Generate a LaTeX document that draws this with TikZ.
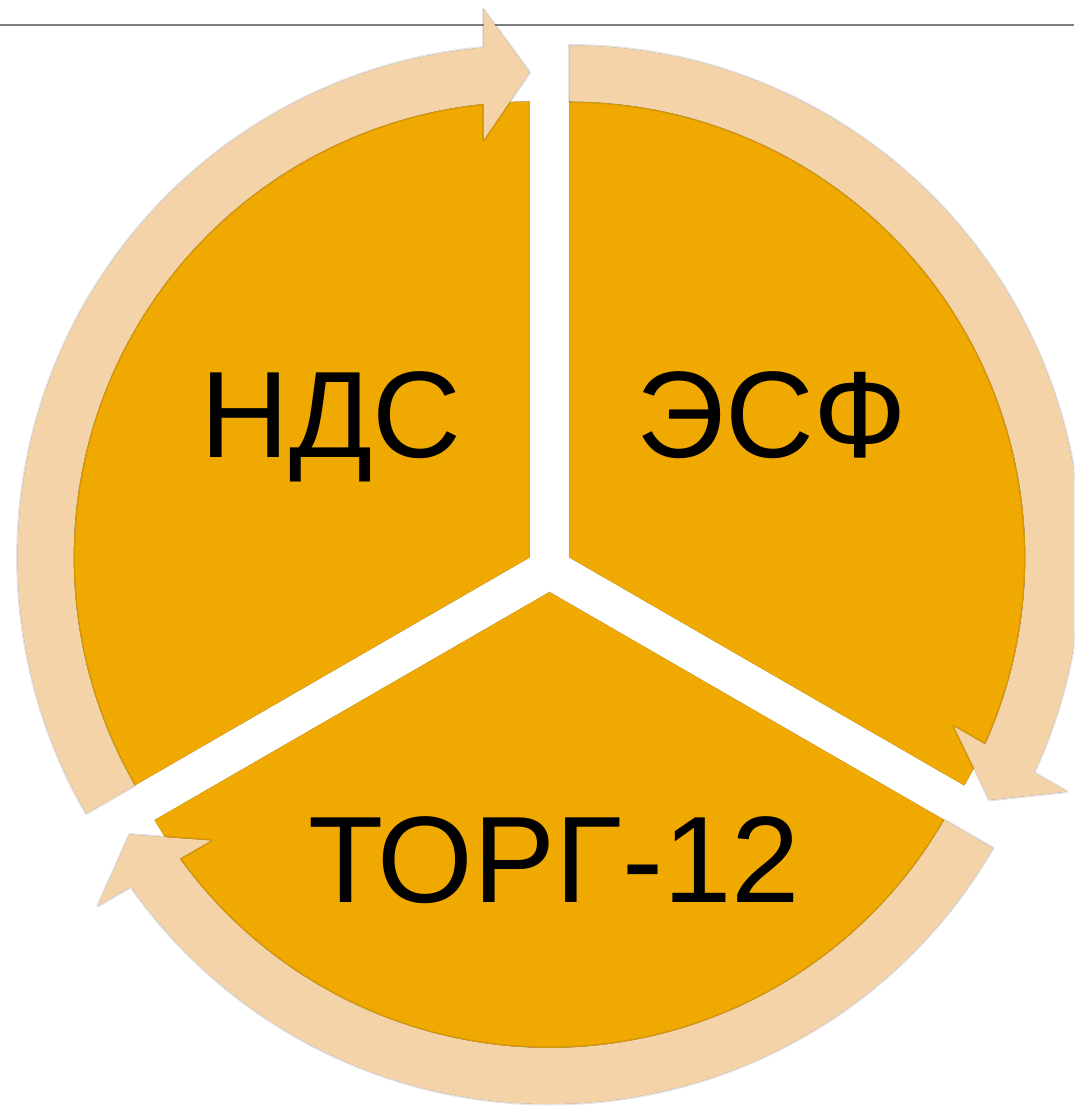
\documentclass[tikz,border=0pt]{standalone}
\usepackage{fontspec}
\setmainfont{Liberation Sans}
\definecolor{segcol}{HTML}{F0A900}
\definecolor{ringcol}{HTML}{F5D3A9}
\definecolor{rulecol}{HTML}{808080}
% #1 options, #2 centre, #3 start angle relative to tip, #4 tip angle
\newcommand\cycarrow[4]{%
  \path[#1,shift={(#2)},rotate=#4] (#3:512pt) arc[start angle=#3,end angle=5.155,radius=512pt]
    -- (548,46) -- (485,0) -- (417.5,46) -- (453.67,46)
    arc[start angle=5.79,end angle=#3,radius=456pt] -- cycle;}
% #1 options, #2 centre, #3 from, #4 to
\newcommand\cycsector[4]{%
  \fill[#1,shift={(#2)}] (0,0) -- (#3:456pt) arc[start angle=#3,end angle=#4,radius=456pt] -- cycle;}
\tikzset{
  lbl/.style={font=\fontsize{123pt}{148pt}\selectfont, inner sep=0pt, text=black},
}
\begin{document}
\begin{tikzpicture}[x=1pt,y=1pt]
\useasboundingbox (0,0) rectangle (1074,1108);
\clip (0,0) rectangle (1074,1108);
\coordinate (cL) at (529.6,550.5);
\coordinate (cR) at (569.4,550.5);
\coordinate (cB) at (549.5,516);
\coordinate (ruleL) at (0,1083);
\coordinate (ruleR) at (1074,1083);
% top rule
\draw[rulecol, line width=2pt] (ruleL) -- (ruleR);
% sector shadows
\foreach \c/\a/\b in {cL/90/210, cR/-30/90, cB/210/330}{
  \cycsector{black,opacity=0.15,xshift=4pt,yshift=-4pt}{\c}{\a}{\b}
  \cycsector{black,opacity=0.6,xshift=1.5pt,yshift=-2pt}{\c}{\a}{\b}
}
% sectors
\cycsector{segcol}{cL}{90}{210}
\cycsector{segcol}{cR}{-30}{90}
\cycsector{segcol}{cB}{210}{330}
% arrow shadows (soft)
\foreach \c/\s/\t in {cL/120/90, cR/120/-30, cB/120/-150}{
  \cycarrow{draw=black,line width=3pt,line join=round,draw opacity=0.1}{\c}{\s}{\t}
  \cycarrow{fill=black,fill opacity=0.1,xshift=6pt,yshift=-6pt}{\c}{\s}{\t}
  \cycarrow{fill=black,fill opacity=0.15,xshift=4pt,yshift=-4pt}{\c}{\s}{\t}
  \cycarrow{fill=black,fill opacity=0.2,xshift=2pt,yshift=-2pt}{\c}{\s}{\t}
}
% arrows
\cycarrow{fill=ringcol}{cL}{120}{90}
\cycarrow{fill=ringcol}{cR}{120}{-30}
\cycarrow{fill=ringcol}{cB}{120}{-150}
% labels
\node[lbl, anchor=base] (nds) at (331,650) {НДС};
\node[lbl, anchor=base] (esf) at (772,650) {ЭСФ};
\node[lbl, anchor=base] (torg) at (554,205) {ТОРГ-12};
\end{tikzpicture}
\end{document}
